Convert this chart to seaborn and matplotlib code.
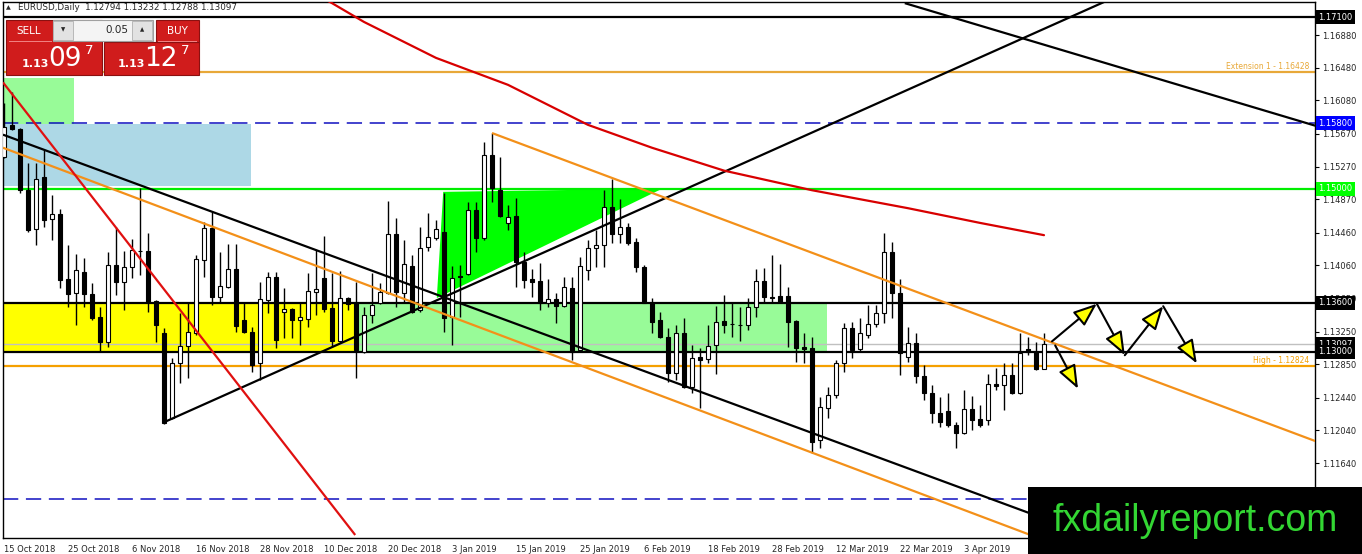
import matplotlib
matplotlib.use("Agg")
import matplotlib.pyplot as plt
import seaborn as sns
import pandas as pd
from matplotlib.patches import Rectangle, Polygon

# --- daily EURUSD candles ---
opens = [
    1.1539, 1.1578, 1.1573, 1.1498, 1.1451, 1.1514, 1.1463, 1.1469, 1.1389, 1.1372,
    1.1398, 1.1371, 1.1343, 1.1312, 1.1406, 1.1386, 1.1404, 1.1424, 1.1424, 1.1362,
    1.1323, 1.1219, 1.1286, 1.1307, 1.1323, 1.1413, 1.1452, 1.1367, 1.1380, 1.1402,
    1.1339, 1.1325, 1.1286, 1.1364, 1.1392, 1.1349, 1.1353, 1.1339, 1.1340, 1.1373,
    1.1391, 1.1354, 1.1313, 1.1366, 1.1360, 1.1300, 1.1345, 1.1360, 1.1372, 1.1444,
    1.1372, 1.1405, 1.1351, 1.1428, 1.1440, 1.1447, 1.1343, 1.1393, 1.1395, 1.1474,
    1.1440, 1.1541, 1.1498, 1.1458, 1.1466, 1.1410, 1.1389, 1.1387, 1.1360, 1.1365,
    1.1356, 1.1378, 1.1302, 1.1400, 1.1427, 1.1431, 1.1477, 1.1444, 1.1453, 1.1435,
    1.1404, 1.1360, 1.1339, 1.1318, 1.1274, 1.1323, 1.1257, 1.1294, 1.1291, 1.1309,
    1.1338, 1.1334, 1.1333, 1.1333, 1.1355, 1.1387, 1.1367, 1.1368, 1.1368, 1.1338,
    1.1306, 1.1305, 1.1192, 1.1231, 1.1247, 1.1286, 1.1329, 1.1304, 1.1321, 1.1334,
    1.1348, 1.1422, 1.1372, 1.1294, 1.1311, 1.1270, 1.1250, 1.1225, 1.1228, 1.1211,
    1.1201, 1.1230, 1.1218, 1.1217, 1.1261, 1.1260, 1.1272, 1.1250, 1.1304, 1.1300,
    1.12794]
highs = [
    1.1605, 1.1618, 1.1574, 1.1531, 1.1531, 1.1547, 1.1492, 1.1475, 1.1431, 1.1420,
    1.1415, 1.1384, 1.1355, 1.1422, 1.1453, 1.1424, 1.1438, 1.1501, 1.1446, 1.1364,
    1.1329, 1.1293, 1.1348, 1.1361, 1.1419, 1.1459, 1.1471, 1.1422, 1.1432, 1.1432,
    1.1361, 1.1331, 1.1386, 1.1398, 1.1398, 1.1378, 1.1354, 1.1360, 1.1397, 1.1425,
    1.1442, 1.1397, 1.1399, 1.1367, 1.1386, 1.1355, 1.1397, 1.1384, 1.1485, 1.1464,
    1.1437, 1.1419, 1.1453, 1.1470, 1.1462, 1.1495, 1.1405, 1.1406, 1.1483, 1.1483,
    1.1557, 1.1568, 1.1539, 1.1480, 1.1488, 1.1422, 1.1402, 1.1409, 1.1389, 1.1372,
    1.1392, 1.1392, 1.1416, 1.1437, 1.1449, 1.1498, 1.1512, 1.1487, 1.1458, 1.1440,
    1.1406, 1.1366, 1.1349, 1.1329, 1.1333, 1.1342, 1.1309, 1.1305, 1.1333, 1.1356,
    1.1370, 1.1361, 1.1355, 1.1366, 1.1402, 1.1403, 1.1419, 1.1408, 1.1380, 1.1339,
    1.1323, 1.1318, 1.1245, 1.1257, 1.1290, 1.1336, 1.1337, 1.1342, 1.1357, 1.1357,
    1.1446, 1.1435, 1.1389, 1.1331, 1.1323, 1.1284, 1.1260, 1.1245, 1.1250, 1.1214,
    1.1253, 1.1246, 1.1235, 1.1273, 1.1280, 1.1286, 1.1286, 1.1323, 1.1318, 1.1312,
    1.13232]
lows = [
    1.1537, 1.1572, 1.1495, 1.1447, 1.1431, 1.1453, 1.1437, 1.1378, 1.1355, 1.1333,
    1.1355, 1.1339, 1.1300, 1.1306, 1.1370, 1.1351, 1.1391, 1.1394, 1.1349, 1.1312,
    1.1212, 1.1218, 1.1262, 1.1268, 1.1321, 1.1392, 1.1357, 1.1361, 1.1378, 1.1324,
    1.1323, 1.1275, 1.1266, 1.1348, 1.1305, 1.1317, 1.1317, 1.1309, 1.1331, 1.1345,
    1.1349, 1.1306, 1.1311, 1.1351, 1.1268, 1.1299, 1.1336, 1.1359, 1.1371, 1.1355,
    1.1360, 1.1348, 1.1349, 1.1424, 1.1437, 1.1324, 1.1309, 1.1343, 1.1394, 1.1422,
    1.1437, 1.1483, 1.1465, 1.1449, 1.1380, 1.1378, 1.1367, 1.1351, 1.1355, 1.1336,
    1.1355, 1.1290, 1.1300, 1.1388, 1.1404, 1.1404, 1.1433, 1.1433, 1.1431, 1.1398,
    1.1360, 1.1323, 1.1317, 1.1263, 1.1266, 1.1256, 1.1250, 1.1231, 1.1286, 1.1273,
    1.1323, 1.1318, 1.1313, 1.1327, 1.1343, 1.1360, 1.1360, 1.1360, 1.1306, 1.1288,
    1.1286, 1.1176, 1.1182, 1.1219, 1.1244, 1.1275, 1.1293, 1.1300, 1.1317, 1.1331,
    1.1336, 1.1342, 1.1272, 1.1288, 1.1262, 1.1241, 1.1213, 1.1208, 1.1208, 1.1182,
    1.1200, 1.1204, 1.1208, 1.1211, 1.1253, 1.1229, 1.1248, 1.1249, 1.1296, 1.1278,
    1.12788]
closes = [
    1.1575, 1.1573, 1.1498, 1.1449, 1.1512, 1.1462, 1.1469, 1.1388, 1.1371, 1.1400,
    1.1371, 1.1342, 1.1312, 1.1406, 1.1386, 1.1404, 1.1425, 1.1423, 1.1361, 1.1333,
    1.1213, 1.1286, 1.1307, 1.1325, 1.1414, 1.1452, 1.1367, 1.1381, 1.1402, 1.1332,
    1.1324, 1.1284, 1.1365, 1.1392, 1.1315, 1.1353, 1.1339, 1.1343, 1.1375, 1.1377,
    1.1353, 1.1313, 1.1366, 1.1359, 1.1302, 1.1345, 1.1357, 1.1373, 1.1444, 1.1373,
    1.1408, 1.1349, 1.1427, 1.1441, 1.1451, 1.1342, 1.1391, 1.1392, 1.1474, 1.1440,
    1.1541, 1.1501, 1.1466, 1.1465, 1.1410, 1.1388, 1.1386, 1.1360, 1.1365, 1.1356,
    1.1380, 1.1300, 1.1405, 1.1427, 1.1431, 1.1477, 1.1444, 1.1453, 1.1433, 1.1404,
    1.1360, 1.1337, 1.1318, 1.1274, 1.1323, 1.1257, 1.1293, 1.1290, 1.1307, 1.1337,
    1.1333, 1.1334, 1.1333, 1.1355, 1.1387, 1.1367, 1.1366, 1.1361, 1.1337, 1.1305,
    1.1304, 1.1190, 1.1233, 1.1247, 1.1286, 1.1329, 1.1302, 1.1323, 1.1334, 1.1348,
    1.1422, 1.1372, 1.1299, 1.1311, 1.1270, 1.1250, 1.1225, 1.1214, 1.1211, 1.1201,
    1.1230, 1.1217, 1.1211, 1.1261, 1.1258, 1.1272, 1.1250, 1.1299, 1.1300, 1.1279,
    1.13097]

# red moving average (bar index, price)
ma_idx = [38, 41, 45, 54, 63, 73, 81, 90, 101, 113, 122, 130]
ma_val = [1.1743, 1.1727, 1.1704, 1.1660, 1.1627, 1.1578, 1.1550, 1.1522, 1.1498, 1.1476, 1.1458, 1.1443]

# trend lines: ([x0, x1], [p0, p1])
black_up = ([20, 138.1], [1.1214, 1.1731])
black_down = ([-0.125, 129.5], [1.1566, 1.1098])
black_top = ([112.6, 163.9], [1.1727, 1.1577])
orange_low = ([-0.125, 128.3], [1.1550, 1.1076])
orange_chan = ([61, 163.9], [1.1568, 1.1191])
red_steep = ([-0.125, 43.9], [1.1630, 1.1076])

# zones: (x0, x1, p_low, p_high)
zone_green_top = (-0.125, 8.75, 1.1579, 1.1635)
zone_blue = (-0.125, 30.9, 1.1503, 1.1579)
zone_yellow = (-0.125, 43.9, 1.1300, 1.1360)
zone_green_mid = (43.9, 102.9, 1.1300, 1.1360)
tri_x = [54.9, 82.3, 54.1]
tri_p = [1.1496, 1.1500, 1.1366]

# projected path arrows
zig_x = [131.0, 136.6, 140.1, 144.9, 149.1]
zig_p = [1.1313, 1.1359, 1.1296, 1.1356, 1.1286]
drop_x = [131.4, 134.25]
drop_p = [1.1308, 1.1255]

price_ticks = [1.16880, 1.16480, 1.16080, 1.15670, 1.15270, 1.14870, 1.14460,
               1.14060, 1.13650, 1.13250, 1.12850, 1.12440, 1.12040, 1.11640]
level_boxes = [(1.17100, "black"), (1.15800, "#0000ff"), (1.15000, "#00ff00"),
               (1.13600, "black"), (1.13097, "black"), (1.13000, "black")]

dates = pd.bdate_range("2018-10-15", "2019-06-01", freq="C",
                       holidays=["2018-12-25", "2019-01-01"])[:len(closes)]

W, H = 1362, 554
sns.set_style("white")
plt.rcParams["font.family"] = ["DejaVu Sans"]

fig = plt.figure(figsize=(W / 100, H / 100), dpi=100)
ax = fig.add_axes([3 / W, 16 / H, 1312 / W, 536 / H])
ax.set_xlim(-0.125, 163.875)
ax.set_ylim(1.10723, 1.17284)

# zones
for x0, x1, p0, p1, col in [(*zone_green_top, "#98fb98"), (*zone_blue, "#add8e6"),
                            (*zone_yellow, "#ffff00"), (*zone_green_mid, "#98fb98")]:
    ax.add_patch(Rectangle((x0, p0), x1 - x0, p1 - p0, fc=col, ec="none", zorder=0.5))
ax.add_patch(Polygon(list(zip(tri_x, tri_p)), closed=True, fc="#00ff00", ec="none", zorder=0.6))

# horizontal levels
ax.axhline(1.17100, color="black", lw=1.6, zorder=1)
ax.axhline(1.16428, color="#e8a838", lw=1.6, zorder=1)
ax.axhline(1.15800, color="#1010c0", lw=1.1, dashes=(10, 5), zorder=1)
ax.axhline(1.15000, color="#00ee00", lw=1.6, zorder=1)
ax.axhline(1.13600, color="black", lw=1.6, zorder=1)
ax.axhline(1.13097, color="#c0c0c0", lw=1.0, zorder=1)
ax.axhline(1.13000, color="black", lw=1.6, zorder=1)
ax.axhline(1.12824, color="#f5a000", lw=1.6, zorder=1)
ax.axhline(1.11200, color="#1010c0", lw=1.1, dashes=(10, 5), zorder=1)
ax.text(163.2, 1.16445, "Extension 1 - 1.16428", color="#e8a838", fontsize=5.5,
        ha="right", va="bottom")
ax.text(163.2, 1.12841, "High - 1.12824", color="#f5a000", fontsize=5.5,
        ha="right", va="bottom")

# candles
xs = list(range(len(closes)))
ax.vlines(xs, lows, highs, color="black", lw=1.0, zorder=2)
for i in xs:
    o, c = opens[i], closes[i]
    bot = min(o, c)
    h = max(abs(c - o), 0.00003)
    ax.bar(i, h, bottom=bot, width=0.62, color="white" if c >= o else "black",
           edgecolor="black", linewidth=0.8, zorder=3)

# trend lines
for (lx, lp), col in [(black_up, "black"), (black_down, "black"), (black_top, "black"),
                      (orange_low, "#f39019"), (orange_chan, "#f39019"),
                      (red_steep, "#e01010")]:
    ax.plot(lx, lp, color=col, lw=1.6, zorder=4, solid_capstyle="butt")
sns.lineplot(x=ma_idx, y=ma_val, ax=ax, color="#d80000", lw=1.6, zorder=4)

# arrows
arrow_kw = dict(arrowstyle="-|>,head_length=0.9,head_width=0.35", fc="yellow",
                ec="black", lw=1.5, shrinkA=0, shrinkB=0, mutation_scale=16)
for k in range(len(zig_x) - 1):
    ax.annotate("", xy=(zig_x[k + 1], zig_p[k + 1]), xytext=(zig_x[k], zig_p[k]),
                arrowprops=arrow_kw, zorder=6)
ax.annotate("", xy=(drop_x[1], drop_p[1]), xytext=(drop_x[0], drop_p[0]),
            arrowprops=arrow_kw, zorder=6)

# axes styling
for s in ax.spines.values():
    s.set_visible(True)
    s.set_color("black")
    s.set_linewidth(1.0)
ax.yaxis.tick_right()
ax.set_yticks(price_ticks)
ax.set_yticklabels([f"{v:.5f}" for v in price_ticks])
tick_idx = list(range(0, len(closes), 8))[:16]
ax.set_xticks(tick_idx)
ax.set_xticklabels([f"{dates[i].day} {dates[i].strftime('%b %Y')}" for i in tick_idx],
                   ha="left")
ax.tick_params(axis="both", labelsize=6, length=3, width=0.8, direction="out",
               color="black", pad=2)
ax.set_xlabel("")
ax.set_ylabel("")

for val, col in level_boxes:
    ax.text(1.0025, val, f"{val:.5f}", transform=ax.get_yaxis_transform(),
            ha="left", va="center", fontsize=6, color="white", zorder=10,
            clip_on=False, bbox=dict(boxstyle="square,pad=0.3", fc=col, ec="none"))


# --- figure overlays in pixel coordinates ---
def prect(x0, y0, x1, y1, **kw):
    fig.patches.append(Rectangle((x0 / W, 1 - y1 / H), (x1 - x0) / W, (y1 - y0) / H,
                                 transform=fig.transFigure, **kw))


def ptext(x, y, s, **kw):
    fig.text(x / W, 1 - y / H, s, **kw)


ptext(6, 8, "\u25b2", fontsize=4.5, va="center", ha="left")
ptext(18, 8, "EURUSD,Daily  1.12794 1.13232 1.12788 1.13097", fontsize=6.3,
      va="center", ha="left")

red = "#d01c1c"
prect(6, 20, 102, 75, fc=red, ec="#8b1010", lw=0.8)
prect(104, 42, 199, 75, fc=red, ec="#8b1010", lw=0.8)
prect(156, 20, 199, 42, fc=red, ec="#8b1010", lw=0.8)
prect(9, 41, 52, 42, fc="#f08080", ec="none")
prect(158, 41, 197, 42, fc="#f08080", ec="none")
prect(53, 20, 153, 41, fc="#f4f4f4", ec="#a0a0a0", lw=0.8)
prect(53, 21, 73, 40, fc="#e2e2e2", ec="#b0b0b0", lw=0.6)
prect(132, 21, 152, 40, fc="#e2e2e2", ec="#b0b0b0", lw=0.6)
ptext(63, 30, "\u25bc", fontsize=4, ha="center", va="center")
ptext(142, 30, "\u25b2", fontsize=4, ha="center", va="center")
ptext(128, 30, "0.05", fontsize=7.5, ha="right", va="center")
ptext(29, 31, "SELL", fontsize=7.5, ha="center", va="center", color="white")
ptext(177, 31, "BUY", fontsize=7.5, ha="center", va="center", color="white")
ptext(22, 64, "1.13", fontsize=8, ha="left", va="center", color="white", weight="bold")
ptext(48, 59, "09", fontsize=19, ha="left", va="center", color="white")
ptext(85, 50, "7", fontsize=9.5, ha="left", va="center", color="white")
ptext(118, 64, "1.13", fontsize=8, ha="left", va="center", color="white", weight="bold")
ptext(144, 59, "12", fontsize=19, ha="left", va="center", color="white")
ptext(181, 50, "7", fontsize=9.5, ha="left", va="center", color="white")

# watermark
prect(1028, 487, 1362, 554, fc="black", ec="none")
ptext(1195, 521, "fxdailyreport.com", fontsize=27, ha="center", va="center",
      color="#33d633", family=["Liberation Sans", "DejaVu Sans"])

fig.savefig("out.png", dpi=100)
